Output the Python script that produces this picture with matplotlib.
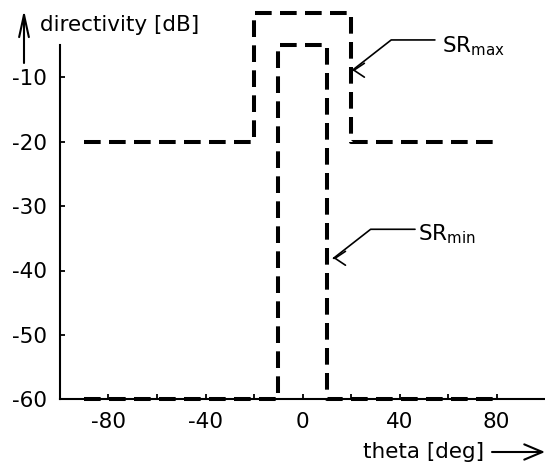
import matplotlib
matplotlib.use('Agg')
import matplotlib.pyplot as plt

# ---- data ----
theta_max = [-90, -20, -20, 20, 20, 80]
sr_max = [-20, -20, 0, 0, -20, -20]
theta_min = [-90, -10, -10, 10, 10, 80]
sr_min = [-60, -60, -5, -5, -60, -60]

xticks_major = [-80, -40, 0, 40, 80]
xticks_minor = [-60, -20, 20, 60]
yticks = [-60, -50, -40, -30, -20, -10]

label_max = r'SR$_{\mathrm{max}}$'
label_min = r'SR$_{\mathrm{min}}$'

plt.rcParams['font.family'] = ['DejaVu Sans']
plt.rcParams['axes.unicode_minus'] = False
plt.rcParams['mathtext.default'] = 'regular'

W, H = 545, 463
fig = plt.figure(figsize=(W / 100, H / 100), dpi=100)
ax = fig.add_axes([60 / W, (H - 399.3) / H, 485 / W, (399.3 - 12.9) / H])
ax.set_xlim(-100, 100)
ax.set_ylim(-60, 0)

lw = 2.9
for x, y in [(theta_max, sr_max), (theta_min, sr_min)]:
    ax.plot(x, y, color='black', lw=lw, linestyle=(0, (12 / lw, 6 / lw)),
            dash_capstyle='butt', clip_on=False, zorder=3)

for s in ['top', 'right']:
    ax.spines[s].set_visible(False)
for s in ['left', 'bottom']:
    ax.spines[s].set_linewidth(1.5)
ax.spines['left'].set_bounds(-60, -5)

ax.set_xticks(xticks_major)
ax.set_xticks(xticks_minor, minor=True)
ax.set_yticks(yticks)
ax.tick_params(which='both', direction='in', length=3.6, width=1.3,
               labelsize=15.5, pad=9.4)

fs = 15.5
# axis labels with arrows (figure pixels)
fig.text(40 / W, (H - 31) / H, 'directivity [dB]', fontsize=fs,
         ha='left', va='baseline')
ax.annotate('', xy=(24, H - 10), xytext=(24, H - 63), xycoords='figure pixels',
            arrowprops=dict(arrowstyle='->, head_length=1.6, head_width=0.35',
                            lw=1.5, color='black', shrinkA=0, shrinkB=0,
                            mutation_scale=10))
fig.text(484 / W, 5 / H, 'theta [deg]', fontsize=fs, ha='right', va='baseline')
ax.annotate('', xy=(545, 11), xytext=(492, 11), xycoords='figure pixels',
            arrowprops=dict(arrowstyle='->, head_length=1.3, head_width=0.55',
                            lw=1.5, color='black', shrinkA=0, shrinkB=0,
                            mutation_scale=10))

# callouts
for tip, start, txt_pos, txt in [((20.6, -8.9), (54.6, -4.2), (57.6, -6.2), label_max),
                                 ((12.8, -38.1), (46.4, -33.6), (47.6, -35.3), label_min)]:
    ax.annotate('', xy=tip, xytext=start,
                arrowprops=dict(arrowstyle='-',
                                connectionstyle='angle,angleA=0,angleB=38,rad=0',
                                lw=1.2, color='black', shrinkA=0, shrinkB=0),
                annotation_clip=False)
    # horizontal open arrowhead "<" at the tip
    ax.annotate('', xy=tip, xytext=(0.4, 0), textcoords='offset points',
                arrowprops=dict(arrowstyle='->, head_length=0.75, head_width=0.5',
                                lw=1.2, color='black', shrinkA=0, shrinkB=0,
                                mutation_scale=10), annotation_clip=False)
    ax.text(txt_pos[0], txt_pos[1], txt, fontsize=fs, ha='left', va='baseline')

fig.savefig('out.png', dpi=100)
